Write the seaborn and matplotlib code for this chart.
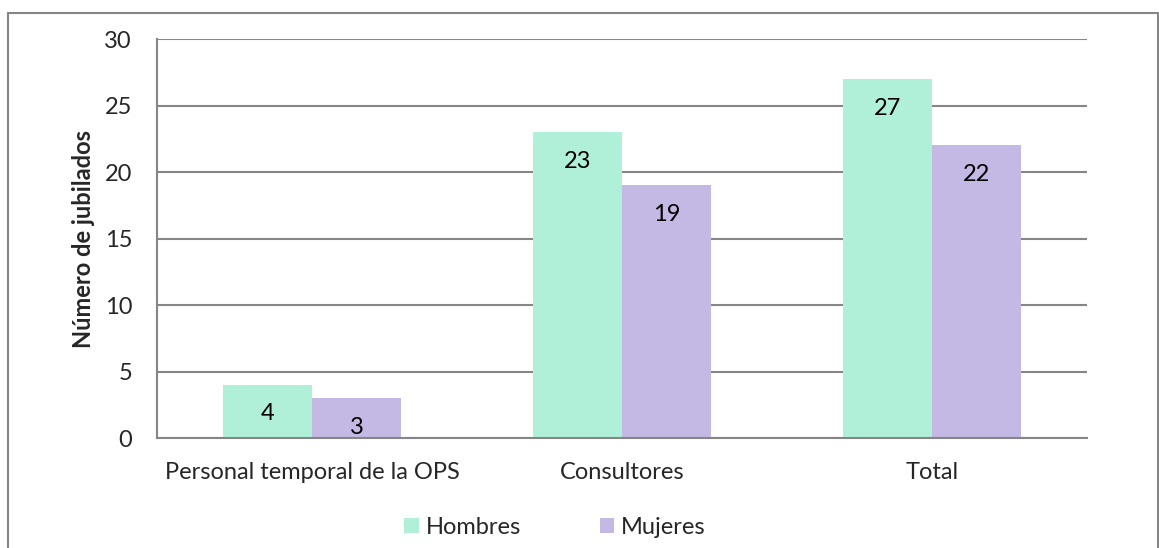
import matplotlib
matplotlib.use("Agg")
import matplotlib.pyplot as plt
import seaborn as sns
import pandas as pd
from matplotlib.lines import Line2D
from matplotlib.patches import Patch

categories = ["Personal temporal de la OPS", "Consultores", "Total"]
series = ["Hombres", "Mujeres"]
hombres = [4, 23, 27]
mujeres = [3, 19, 22]
y_ticks = [0, 5, 10, 15, 20, 25, 30]
colors = {"Hombres": "#B0F0D8", "Mujeres": "#C4B8E4"}

df = pd.DataFrame({
    "Categoria": categories * 2,
    "Sexo": ["Hombres"] * 3 + ["Mujeres"] * 3,
    "Valor": hombres + mujeres,
})

sns.set_style("white")
plt.rcParams["font.family"] = ["Lato", "DejaVu Sans"]
grid_color = "#868686"
fs = 17

fig = plt.figure(figsize=(11.59, 5.48), dpi=100)
ax = fig.add_axes([0.1355, 0.2007, 0.8024, 0.7281])

sns.barplot(data=df, x="Categoria", y="Valor", hue="Sexo", order=categories,
            hue_order=series, palette=colors, width=0.575, saturation=1,
            edgecolor="none", legend=False, ax=ax)

# value labels inside bars
for cont in ax.containers:
    for bar in cont:
        h = bar.get_height()
        ax.annotate(f"{int(h)}", (bar.get_x() + bar.get_width() / 2, h),
                    xytext=(0, -21), textcoords="offset points",
                    ha="center", va="center", fontsize=fs, color="black")

ax.set_xlim(-0.5, 2.5)
ax.set_ylim(0, 30)
ax.set_yticks(y_ticks)
ax.yaxis.grid(True, color=grid_color, linewidth=1.5)
ax.set_axisbelow(True)
for s in ["top", "right"]:
    ax.spines[s].set_visible(False)
for s in ["left", "bottom"]:
    ax.spines[s].set_color(grid_color)
    ax.spines[s].set_linewidth(1.5)

ax.set_xticks([0, 1, 2])
ax.set_xticklabels(categories)
ax.set_xticks([-0.5, 0.5, 1.5, 2.5], minor=True)
ax.tick_params(axis="x", which="major", length=0, pad=17, labelsize=fs)
ax.tick_params(axis="x", which="minor", length=7, width=1.5, color=grid_color, direction="out")
ax.tick_params(axis="y", length=7, width=1.5, color=grid_color, direction="out", pad=11, labelsize=fs)
ax.set_xlabel("")
ax.set_ylabel("Número de jubilados", fontsize=fs, fontweight="bold", labelpad=7)

# legend
handles = [Patch(facecolor=colors[s], edgecolor="none", label=s) for s in series]
fig.legend(handles=handles, loc="center", bbox_to_anchor=(0.479, 0.038), ncol=2,
           frameon=False, fontsize=fs, handlelength=0.6, handleheight=0.6,
           handletextpad=0.3, columnspacing=3.35)

# outer chart frame (bottom edge cut off)
x0, x1, yt = 8 / 1159, 1157.5 / 1159, 1 - 13 / 548
for xs, ys in [([x0, x0], [0, yt]), ([x0, x1], [yt, yt]), ([x1, x1], [yt, 0])]:
    fig.add_artist(Line2D(xs, ys, color=grid_color, linewidth=1.5, transform=fig.transFigure))

fig.savefig("out.png", dpi=100)
